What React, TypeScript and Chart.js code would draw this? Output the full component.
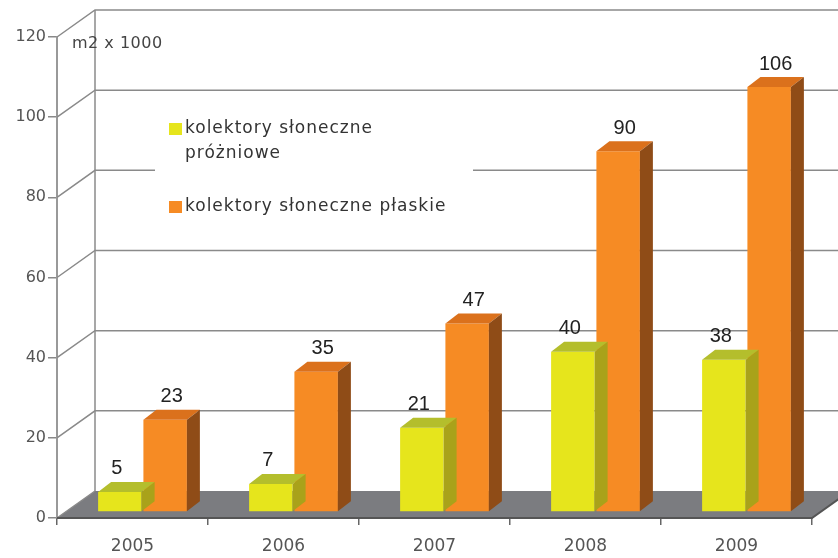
import React, { useEffect, useRef } from "react";
import { Chart, registerables } from "chart.js";

Chart.register(...registerables);

const years = ["2005", "2006", "2007", "2008", "2009"];
const vacuumValues = [5, 7, 21, 40, 38];
const flatValues = [23, 35, 47, 90, 106];
const seriesNames = ["kolektory słoneczne próżniowe", "kolektory słoneczne płaskie"];
const legendLines = [["kolektory słoneczne", "próżniowe"], ["kolektory słoneczne płaskie"]];
const unitLabel = "m2 x 1000";
const yMin = 0;
const yMax = 120;
const yStep = 20;

const FONT = "'DejaVu Sans', sans-serif";
const colors = [
  { front: "#e6e51c", top: "#b4be2c", side: "#a9a21a" },
  { front: "#f68b24", top: "#db711c", side: "#8f4c17" },
];

// 3D geometry (style)
const WALL_DX = 38;
const WALL_DY = -27;
const BAR_SHIFT_X = 10;
const BAR_SHIFT_Y = -6;
const DEPTH_DX = 13;
const DEPTH_DY = -10;

const threeD = {
  id: "threeD",
  beforeDatasetsDraw(chart: any) {
    const { ctx, chartArea, scales } = chart;
    const y = scales.y;
    const W = chart.width;
    ctx.save();
    const y0 = y.getPixelForValue(0);
    ctx.fillStyle = "#7b7c80";
    ctx.beginPath();
    ctx.moveTo(chartArea.left, y0);
    ctx.lineTo(chartArea.right, y0);
    ctx.lineTo(chartArea.right + WALL_DX, y0 + WALL_DY);
    ctx.lineTo(chartArea.left + WALL_DX, y0 + WALL_DY);
    ctx.closePath();
    ctx.fill();
    ctx.strokeStyle = "#8a8a8a";
    ctx.lineWidth = 1.5;
    for (let v = yMin; v <= yMax; v += yStep) {
      const py = y.getPixelForValue(v);
      ctx.beginPath();
      ctx.moveTo(chartArea.left, py);
      ctx.lineTo(chartArea.left + WALL_DX, py + WALL_DY);
      if (v > 0) ctx.lineTo(W, py + WALL_DY);
      ctx.stroke();
    }
    ctx.beginPath();
    ctx.moveTo(chartArea.left + WALL_DX, y.getPixelForValue(yMax) + WALL_DY);
    ctx.lineTo(chartArea.left + WALL_DX, y0 + WALL_DY);
    ctx.stroke();
    ctx.strokeStyle = "#555";
    ctx.lineWidth = 2;
    ctx.beginPath();
    ctx.moveTo(chartArea.left, y0);
    ctx.lineTo(chartArea.right, y0);
    ctx.lineTo(chartArea.right + WALL_DX, y0 + WALL_DY);
    ctx.stroke();
    ctx.fillStyle = "#ffffff";
    ctx.fillRect(155, 100, 318, 135);
    ctx.restore();
  },
  beforeDatasetDraw(chart: any) {
    chart.ctx.save();
    chart.ctx.translate(BAR_SHIFT_X, BAR_SHIFT_Y);
  },
  afterDatasetDraw(chart: any, args: any) {
    const { ctx } = chart;
    const meta = args.meta;
    const c = colors[args.index];
    meta.data.forEach((el: any) => {
      const { x, y, base, width } = el.getProps(["x", "y", "base", "width"], true);
      const l = x - width / 2;
      const r = x + width / 2;
      ctx.fillStyle = c.top;
      ctx.beginPath();
      ctx.moveTo(l, y);
      ctx.lineTo(l + DEPTH_DX, y + DEPTH_DY);
      ctx.lineTo(r + DEPTH_DX, y + DEPTH_DY);
      ctx.lineTo(r, y);
      ctx.closePath();
      ctx.fill();
      ctx.fillStyle = c.side;
      ctx.beginPath();
      ctx.moveTo(r, y);
      ctx.lineTo(r + DEPTH_DX, y + DEPTH_DY);
      ctx.lineTo(r + DEPTH_DX, base + DEPTH_DY);
      ctx.lineTo(r, base);
      ctx.closePath();
      ctx.fill();
    });
    ctx.restore();
  },
  afterDatasetsDraw(chart: any) {
    const { ctx, chartArea } = chart;
    ctx.save();
    ctx.font = `20px 'Liberation Sans', Arial, sans-serif`;
    ctx.fillStyle = "#222";
    ctx.textAlign = "center";
    ctx.textBaseline = "middle";
    chart.data.datasets.forEach((ds: any, di: number) => {
      const meta = chart.getDatasetMeta(di);
      meta.data.forEach((el: any, i: number) => {
        const { x, y } = el.getProps(["x", "y"], true);
        const off = di === 0 ? -3 : DEPTH_DX / 2;
        ctx.fillText(String(ds.data[i]), x + BAR_SHIFT_X + off, y + BAR_SHIFT_Y - 23);
      });
    });
    ctx.font = `16px ${FONT}`;
    (ctx as any).letterSpacing = "0.5px";
    ctx.fillStyle = "#444";
    ctx.textAlign = "left";
    ctx.fillText(unitLabel, chartArea.left + 15, 44);
    const items = [
      { lines: legendLines[0], y: 129 },
      { lines: legendLines[1], y: 207 },
    ];
    ctx.font = `17px ${FONT}`;
    (ctx as any).letterSpacing = "1px";
    items.forEach((it, k) => {
      ctx.fillStyle = chart.data.datasets[k].backgroundColor;
      ctx.fillRect(169, it.y - 6, 13, 12);
      ctx.fillStyle = "#333";
      it.lines.forEach((t, j) => ctx.fillText(t, 185, it.y + j * 25));
    });
    ctx.restore();
  },
};

export default function App() {
  const ref = useRef<HTMLCanvasElement>(null);
  useEffect(() => {
    if (!ref.current) return;
    const chart = new Chart(ref.current, {
      type: "bar",
      data: {
        labels: years,
        datasets: [
          { label: seriesNames[0], data: vacuumValues, backgroundColor: colors[0].front, categoryPercentage: 0.6, barPercentage: 0.96 },
          { label: seriesNames[1], data: flatValues, backgroundColor: colors[1].front, categoryPercentage: 0.6, barPercentage: 0.96 },
        ],
      },
      options: {
        responsive: false,
        animation: false,
        layout: { padding: { top: 37, right: 26, left: 0, bottom: 0 } },
        plugins: { legend: { display: false }, tooltip: { enabled: false } },
        scales: {
          x: {
            offset: true,
            grid: { offset: true, drawOnChartArea: false, tickLength: 7, color: "#666", lineWidth: 1.5 },
            border: { color: "#555", width: 2 },
            ticks: { color: "#555", font: { family: FONT, size: 17 }, padding: 11 },
            afterFit: (s: any) => { s.height = 40; },
          },
          y: {
            min: yMin,
            max: yMax,
            grid: { drawOnChartArea: false, tickLength: 9, color: "#888", lineWidth: 1.5 },
            border: { color: "#999", width: 2 },
            ticks: { stepSize: yStep, color: "#555", font: { family: FONT, size: 16 }, padding: 2 },
            afterFit: (s: any) => { s.width = 57; },
          },
        },
      },
      plugins: [threeD],
    });
    return () => chart.destroy();
  }, []);
  return (
    <div style={{ position: "fixed", left: 0, top: 0, width: 838, height: 558, background: "#fff" }}>
      <canvas ref={ref} width={838} height={558} />
    </div>
  );
}
